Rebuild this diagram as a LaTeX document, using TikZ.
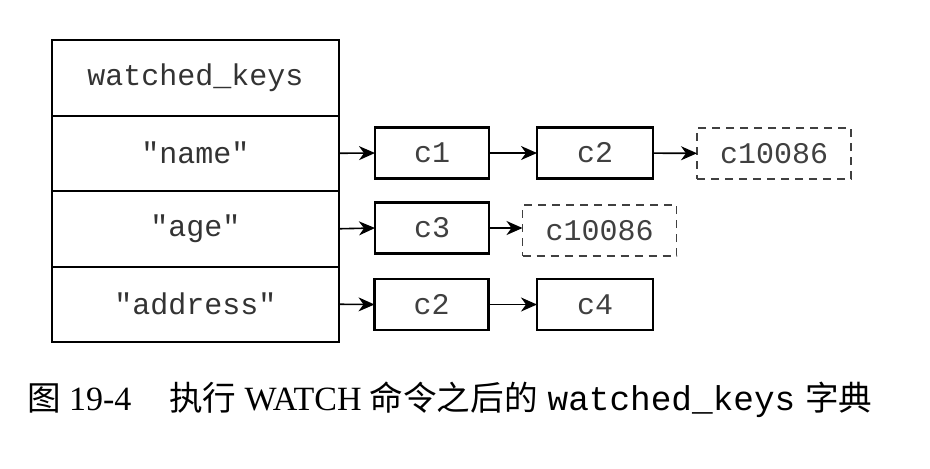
\documentclass[tikz,border=0pt]{standalone}
\usepackage{fontspec}
\setmainfont{Liberation Serif}
\setmonofont{Liberation Mono}
\newfontfamily\cjk{Noto Sans CJK SC}
\usetikzlibrary{arrows.meta}

\begin{document}
\begin{tikzpicture}[x=0.5pt, y=-0.5pt,
		keycell/.style={draw, line width=1pt, outer sep=0pt, minimum width=143.5pt, minimum height=37.75pt, inner sep=0pt, text=black!80, font=\ttfamily\fontsize{15}{18}\selectfont},
		clientbox/.style={draw, line width=1.1pt, outer sep=0pt, minimum width=57pt, minimum height=25.5pt, inner sep=0pt, text=black!75, font=\ttfamily\fontsize{15}{18}\selectfont},
		newclient/.style={clientbox, draw=black!75, line width=0.8pt, dash pattern=on 4pt off 3pt, minimum width=77pt},
		link/.style={line width=0.8pt, -{Stealth[length=8pt, width=7pt, inset=2.5pt]}}]
	%%%%% START %%%%%
	\useasboundingbox (0, 0) rectangle (930, 468);
	
	% the dictionary
	\node[keycell] (dict) at (195.5, 77.75) {watched\_keys};
	\node[keycell] (name) at (195.5, 153.25) {"name"};
	\node[keycell] (age) at (195.5, 228.75) {"age"};
	\node[keycell] (address) at (195.5, 304.25) {"address"};
	
	% clients watching "name"
	\node[clientbox] (nameA) at (432, 153) {c1};
	\node[clientbox, minimum width=58pt] (nameB) at (595, 153) {c2};
	\node[newclient] (nameNew) at (774, 153.5) {c10086};
	
	% clients watching "age"
	\node[clientbox] (ageA) at (432, 228) {c3};
	\node[newclient] (ageNew) at (599.5, 230.5) {c10086};
	
	% clients watching "address"
	\node[clientbox] (addressA) at (431.5, 304.5) {c2};
	\node[clientbox, minimum width=58pt] (addressB) at (595, 304.5) {c4};
	
	\draw[link] (name.east) -- (nameA.west);
	\draw[link] (nameA) -- (nameB);
	\draw[link] (nameB) -- (nameNew);
	\draw[link] (age.east) -- (ageA.west);
	\draw[link] (ageA) -- (ageA -| ageNew.west);
	\draw[link] (address.east) -- (addressA.west);
	\draw[link] (addressA) -- (addressB);
	
	% caption
	\node[anchor=base west, inner sep=0pt, font=\fontsize{17}{20}\selectfont] (caption) at (27, 410)
		{{\cjk\fontsize{16.8}{20}\selectfont 图}\hspace{4pt}19-4\hspace{19pt}{\cjk\fontsize{16.8}{20}\selectfont 执行}\hspace{4pt}WATCH\hspace{4pt}{\cjk\fontsize{16.8}{20}\selectfont 命令之后的}\hspace{5pt}{\ttfamily\fontsize{17.2}{19}\selectfont watched\_keys}\hspace{5pt}{\cjk\fontsize{16.8}{20}\selectfont 字典}};
	%%%%% END %%%%%
\end{tikzpicture}
\end{document}
